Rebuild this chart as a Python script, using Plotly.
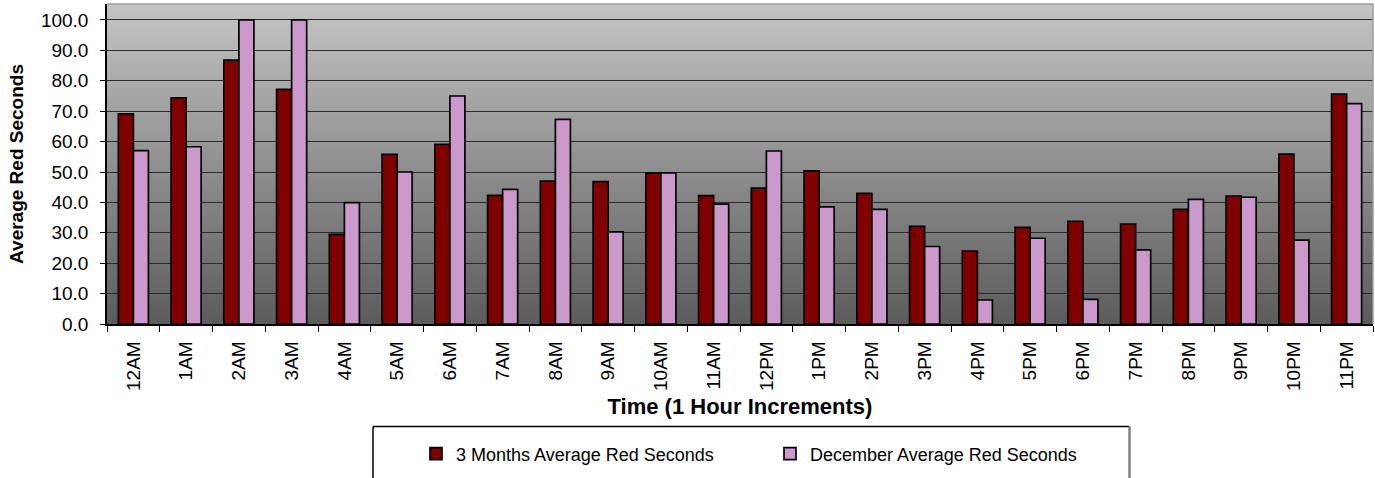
import plotly.graph_objects as go

# Hour-of-day categories
hours = ["12AM", "1AM", "2AM", "3AM", "4AM", "5AM", "6AM", "7AM", "8AM", "9AM",
         "10AM", "11AM", "12PM", "1PM", "2PM", "3PM", "4PM", "5PM", "6PM", "7PM",
         "8PM", "9PM", "10PM", "11PM"]

# Average red seconds per hour
three_months = [69.1, 74.4, 86.8, 77.2, 29.5, 55.8, 59.1, 42.3, 47.0, 46.8,
                49.6, 42.2, 44.7, 50.4, 43.0, 32.1, 24.0, 31.8, 33.8, 32.9,
                37.7, 42.1, 55.9, 75.6]
december = [57.0, 58.3, 100.0, 100.0, 39.9, 50.0, 75.0, 44.3, 67.3, 30.3,
            49.7, 39.4, 56.9, 38.5, 37.7, 25.5, 7.9, 28.2, 8.1, 24.4,
            41.0, 41.7, 27.6, 72.5]

series_names = ["3 Months Average Red Seconds", "December Average Red Seconds"]
series_colors = ["#800000", "#CC99CC"]

FONT = "Arial, 'Liberation Sans', sans-serif"

fig = go.Figure()
for name, vals, col in zip(series_names, [three_months, december], series_colors):
    fig.add_trace(go.Bar(
        x=hours, y=vals, name=name,
        marker=dict(color=col, line=dict(color="#000000", width=1.7)),
    ))

# Vertical grey gradient behind the plot area, built from thin bands
shapes = []
n_bands = 80
top_rgb = (196, 196, 196)
bot_rgb = (92, 92, 92)
for i in range(n_bands):
    t = i / (n_bands - 1)
    c = [round(bot_rgb[k] + (top_rgb[k] - bot_rgb[k]) * t) for k in range(3)]
    shapes.append(dict(
        type="rect", xref="x domain", yref="y domain",
        x0=0, x1=1, y0=i / n_bands, y1=min(1, (i + 1) / n_bands + 0.003),
        fillcolor=f"rgb({c[0]},{c[1]},{c[2]})", line=dict(width=0), layer="below",
    ))

# Light border on the top and right of the plot area
shapes.append(dict(type="line", xref="x domain", yref="y domain",
                   x0=0, x1=1, y0=1, y1=1, line=dict(color="#9c9c9c", width=1.5)))
shapes.append(dict(type="line", xref="x domain", yref="y domain",
                   x0=1, x1=1, y0=0, y1=1, line=dict(color="#9c9c9c", width=1.5)))

# Legend frame (runs off the bottom of the page)
lx0, lx1 = (373 - 107) / 1266, (1129.5 - 107) / 1266
ly_top = (324 - 426.5) / 320
ly_bot = -0.7
shapes.append(dict(type="line", xref="paper", yref="paper",
                   x0=lx0, x1=lx1, y0=ly_top, y1=ly_top, line=dict(color="#000000", width=1.5)))
shapes.append(dict(type="line", xref="paper", yref="paper",
                   x0=lx0, x1=lx0, y0=ly_top, y1=ly_bot, line=dict(color="#000000", width=1.5)))
shapes.append(dict(type="line", xref="paper", yref="paper",
                   x0=lx1, x1=lx1, y0=ly_top, y1=ly_bot, line=dict(color="#808080", width=2.5)))

fig.update_layout(
    width=1375, height=478,
    margin=dict(l=107, r=2, t=4, b=154),
    paper_bgcolor="#ffffff",
    plot_bgcolor="rgba(0,0,0,0)",
    font=dict(family=FONT, color="#000000"),
    barmode="group",
    bargap=0.43,
    bargroupgap=0,
    shapes=shapes,
    showlegend=True,
    legend=dict(
        orientation="h",
        x=(416 - 107) / 1266, xanchor="left",
        y=(324 - 454) / 320, yanchor="middle",
        font=dict(family=FONT, size=18, color="#000000"),
        bgcolor="rgba(0,0,0,0)",
        entrywidth=309, entrywidthmode="pixels",
        itemwidth=30,
        traceorder="normal",
    ),
)

fig.update_xaxes(
    type="category",
    tickangle=-90,
    tickfont=dict(family=FONT, size=19),
    ticks="outside", tickson="boundaries", ticklen=6, tickcolor="#000000", tickwidth=1,
    ticklabelstandoff=8,
    showline=True, linecolor="#000000", linewidth=1.5,
    showgrid=False,
    title=dict(text="<b>Time (1 Hour Increments)</b>",
               font=dict(family=FONT, size=22), standoff=9),
)

fig.update_yaxes(
    range=[0, 105.26],
    dtick=10, tick0=0,
    tickformat=".1f",
    tickfont=dict(family=FONT, size=19),
    ticks="outside", ticklen=5, tickcolor="#000000", tickwidth=1,
    ticklabelstandoff=8,
    showline=True, linecolor="#000000", linewidth=1.5,
    showgrid=True, gridcolor="#2b2b2b", gridwidth=1.2,
    zeroline=False,
    title=dict(text="<b>Average Red Seconds</b>",
               font=dict(family=FONT, size=19), standoff=12),
)

fig.write_html("out.html")
